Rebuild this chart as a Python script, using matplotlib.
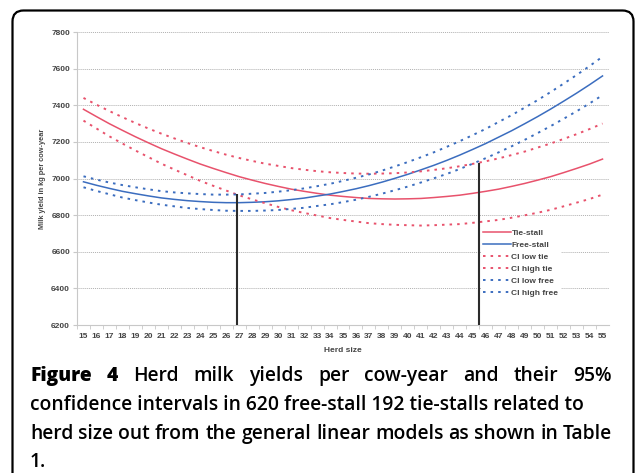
import matplotlib
matplotlib.use('Agg')
import matplotlib.pyplot as plt
from matplotlib.patches import FancyBboxPatch

# herd size categories and fitted yields (kg per cow-year)
herd_size = [15, 16, 17, 18, 19, 20, 21, 22, 23, 24, 25, 26, 27, 28, 29, 30, 31, 32, 33, 34, 35,
             36, 37, 38, 39, 40, 41, 42, 43, 44, 45, 46, 47, 48, 49, 50, 51, 52, 53, 54, 55]

tie_stall = [7378, 7338, 7299, 7263, 7228, 7195, 7163, 7134, 7106, 7079, 7055, 7032, 7010, 6991,
             6973, 6957, 6942, 6930, 6919, 6909, 6902, 6896, 6891, 6889, 6888, 6889, 6891, 6896,
             6902, 6909, 6919, 6930, 6942, 6957, 6973, 6991, 7010, 7032, 7055, 7079, 7106]
free_stall = [6982, 6963, 6946, 6930, 6917, 6905, 6894, 6886, 6879, 6874, 6870, 6868, 6868, 6870,
              6873, 6878, 6885, 6893, 6904, 6915, 6929, 6944, 6961, 6980, 7001, 7023, 7047, 7072,
              7099, 7128, 7159, 7191, 7226, 7261, 7299, 7338, 7379, 7422, 7466, 7512, 7560]
ci_low_tie = [7316, 7273, 7230, 7191, 7153, 7117, 7081, 7049, 7018, 6987, 6960, 6934, 6908, 6886,
              6865, 6845, 6827, 6812, 6798, 6784, 6774, 6765, 6756, 6751, 6747, 6745, 6743, 6745,
              6748, 6751, 6758, 6766, 6774, 6786, 6799, 6813, 6829, 6848, 6868, 6888, 6912]
ci_high_tie = [7440, 7403, 7368, 7335, 7303, 7273, 7245, 7219, 7194, 7171, 7150, 7130, 7112, 7096,
               7081, 7069, 7057, 7048, 7040, 7034, 7030, 7027, 7026, 7027, 7029, 7033, 7039, 7047,
               7056, 7067, 7080, 7094, 7110, 7128, 7147, 7169, 7191, 7216, 7242, 7270, 7300]
ci_low_free = [6952, 6932, 6914, 6896, 6882, 6869, 6857, 6848, 6839, 6833, 6828, 6824, 6823, 6823,
               6825, 6828, 6834, 6840, 6850, 6859, 6871, 6884, 6900, 6917, 6936, 6956, 6978, 7001,
               7025, 7052, 7081, 7111, 7143, 7176, 7211, 7248, 7286, 7326, 7367, 7410, 7455]
ci_high_free = [7012, 6994, 6978, 6964, 6952, 6941, 6931, 6924, 6919, 6915, 6912, 6912, 6913, 6917,
                6921, 6928, 6936, 6946, 6958, 6971, 6987, 7004, 7022, 7043, 7066, 7090, 7116, 7143,
                7173, 7204, 7237, 7271, 7309, 7346, 7387, 7428, 7472, 7518, 7565, 7614, 7665]

# marker lines at the herd sizes where the intervals separate
marker_x = [26.8, 45.5]
marker_top = [6915, 7087]

y_ticks = [6200, 6400, 6600, 6800, 7000, 7200, 7400, 7600, 7800]

RED = '#e8526c'
BLUE = '#3b6dbf'
GREY_TXT = '#444444'
CHART_FONT = 'Liberation Sans'

W, H = 635, 473
fig = plt.figure(figsize=(W / 100, H / 100), dpi=100)

# page layer in pixel coordinates: rounded frame and caption
bg = fig.add_axes([0, 0, 1, 1], zorder=0)
bg.set_xlim(0, W)
bg.set_ylim(H, 0)
bg.axis('off')
frame = FancyBboxPatch((12.5, 10.5), 621, 500, boxstyle='round,pad=0,rounding_size=11',
                       facecolor='white', edgecolor='black', linewidth=1.6, clip_on=False)
bg.add_patch(frame)

ax = fig.add_axes([77 / W, 1 - 325 / H, (609 - 77) / W, (325 - 32) / H], zorder=2)
ax.set_facecolor('none')

dot = (0, (1.3, 2.6))
l_tie, = ax.plot(herd_size, tie_stall, color=RED, lw=1.1, label='Tie-stall')
l_free, = ax.plot(herd_size, free_stall, color=BLUE, lw=1.1, label='Free-stall')
l_lt, = ax.plot(herd_size, ci_low_tie, color=RED, lw=1.4, ls=dot, label='Cl low tie')
l_ht, = ax.plot(herd_size, ci_high_tie, color=RED, lw=1.4, ls=dot, label='Cl high tie')
l_lf, = ax.plot(herd_size, ci_low_free, color=BLUE, lw=1.4, ls=dot, label='Cl low free')
l_hf, = ax.plot(herd_size, ci_high_free, color=BLUE, lw=1.4, ls=dot, label='Cl high free')

ax.vlines(marker_x, 6200, marker_top, color='#2b2b2b', lw=1.5, zorder=5)

ax.set_xlim(14.5, 55.5)
ax.set_ylim(6200, 7800)
ax.set_yticks(y_ticks)
ax.set_xticks(herd_size)
ax.set_xticks([v + 0.5 for v in herd_size[:-1]] + [14.5], minor=True)
ax.grid(axis='y', color='#b0b0b0', lw=0.7, ls=(0, (1, 1)))
ax.set_axisbelow(True)

for side in ['top', 'right']:
    ax.spines[side].set_visible(False)
ax.spines['left'].set_color('#c8c8c8')
ax.spines['bottom'].set_color('#c8c8c8')
ax.tick_params(axis='x', which='major', length=0, pad=6, labelsize=6, labelcolor=GREY_TXT)
ax.tick_params(axis='x', which='minor', length=3, color='#c8c8c8', direction='out')
ax.tick_params(axis='y', length=3, color='#c8c8c8', pad=2, labelsize=6, labelcolor=GREY_TXT)
for lab in ax.get_xticklabels() + ax.get_yticklabels():
    lab.set_fontfamily(CHART_FONT)
    lab.set_fontweight('bold')

ax.set_xlabel('Herd size', fontsize=6, fontweight='bold', color=GREY_TXT,
              family=CHART_FONT, labelpad=5)
ax.set_ylabel('Milk yield in kg per cow-year', fontsize=5.3, fontweight='bold',
              color=GREY_TXT, family=CHART_FONT, labelpad=4)

leg = ax.legend(handles=[l_tie, l_free, l_lt, l_ht, l_lf, l_hf], loc='upper left',
                bbox_to_anchor=(481 / W, 1 - 227.5 / H), bbox_transform=fig.transFigure,
                borderaxespad=0, borderpad=0.25, handlelength=3.3, handletextpad=0.1,
                labelspacing=0.48, frameon=True, fancybox=False,
                prop={'family': CHART_FONT, 'weight': 'bold', 'size': 6})
leg.get_frame().set_facecolor('white')
leg.get_frame().set_edgecolor('none')
leg.get_frame().set_alpha(1)
for t in leg.get_texts():
    t.set_color(GREY_TXT)

# caption, justified like the printed page
CAP_FONT = 'Open Sans'
CAP_SIZE = 13.9
renderer = fig.canvas.get_renderer()


def text_width(s, weight):
    t = bg.text(0, 0, s, fontsize=CAP_SIZE, family=CAP_FONT, fontweight=weight)
    w = t.get_window_extent(renderer).width
    t.remove()
    return w


def justified(words, y, x0=30, x1=612):
    widths = [text_width(w, wt) for w, wt in words]
    gap = (x1 - x0 - sum(widths)) / (len(words) - 1)
    x = x0
    for (w, wt), wd in zip(words, widths):
        bg.text(x, y, w, fontsize=CAP_SIZE, family=CAP_FONT, fontweight=wt, va='center')
        x += wd + gap


line1 = [('Figure', 'heavy'), ('4', 'heavy')] + [(w, 'semibold') for w in
         'Herd milk yields per cow-year and their 95%'.split()]
line3 = [(w, 'semibold') for w in
         'herd size out from the general linear models as shown in Table'.split()]
justified(line1, 376)
bg.text(30, 405, 'confidence intervals in 620 free-stall 192 tie-stalls related to',
        fontsize=CAP_SIZE, family=CAP_FONT, fontweight='semibold', va='center')
justified(line3, 434)
bg.text(30, 462, '1.', fontsize=CAP_SIZE, family=CAP_FONT, fontweight='semibold', va='center')

fig.savefig('out.png', dpi=100)
